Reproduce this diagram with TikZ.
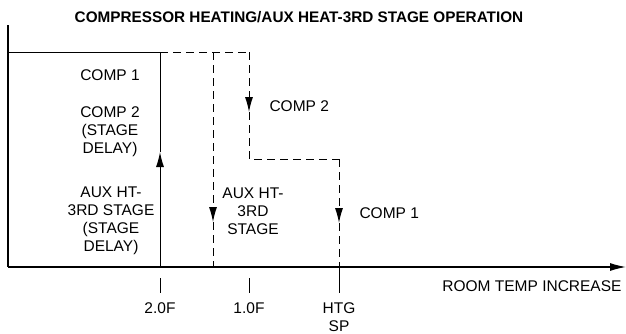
\documentclass[tikz,border=0pt]{standalone}
\usepackage{fontspec}
\setmainfont{Liberation Sans}
\usetikzlibrary{arrows.meta}
\begin{document}
\begin{tikzpicture}[x=0.5pt,y=-0.5pt,line width=0.5pt,
  lbl/.style={align=center,font=\fontsize{7.75}{9}\selectfont,inner sep=0pt},
  dsh/.style={dash pattern=on 4pt off 2.5pt},
  tip/.style={-{Latex[length=7.5pt,width=4pt]}}]
  \useasboundingbox (0,0) rectangle (626,333);
  % axes
  \coordinate (o) at (8,267);
  \coordinate (ytop) at (8,25);
  \coordinate (xend) at (626,267);
  \draw[line width=0.6pt] (ytop) -- (o);
  \draw[line width=0.6pt,-{Latex[length=8pt,width=4pt]}] (o) -- (xend);
  % solid step (2.0F)
  \coordinate (tl) at (8,52);
  \coordinate (s1t) at (160,52);
  \coordinate (s1m) at (160,152);
  \coordinate (s1b) at (160,267);
  \draw (tl) -- (s1t);
  \draw[tip] (s1b) -- (s1m);
  \draw (s1m) -- (s1t);
  % dashed steps
  \coordinate (d1t) at (213,52);
  \coordinate (d1m) at (213,222);
  \coordinate (d1b) at (213,267);
  \coordinate (d2t) at (249,52);
  \coordinate (d2m) at (249,112);
  \coordinate (d2c) at (249,159);
  \coordinate (d3c) at (339,159);
  \coordinate (d3m) at (339,223);
  \coordinate (d3b) at (339,267);
  \draw[dsh] (s1t) -- (d2t);
  \draw[dsh,tip] (d1t) -- (d1m);
  \draw[dsh] (d1m) -- (d1b);
  \draw[dsh,tip] (d2t) -- (d2m);
  \draw[dsh] (d2m) -- (d2c) -- (d3c);
  \draw[dsh,tip] (d3c) -- (d3m);
  \draw[dsh] (d3m) -- (d3b);
  % ticks
  \coordinate (t1a) at (160,278);
  \coordinate (t1b) at (160,293);
  \coordinate (t2a) at (249,278);
  \coordinate (t2b) at (249,293);
  \coordinate (t3b) at (339,293);
  \draw (t1a) -- (t1b);
  \draw (t2a) -- (t2b);
  \draw (d3b) -- (t3b);
  % labels
  \node[font=\bfseries\fontsize{7.65}{9}\selectfont,inner sep=0pt] (title) at (299,17) {COMPRESSOR HEATING/AUX HEAT-3RD STAGE OPERATION};
  \node[lbl] (lc1) at (110,75) {COMP 1};
  \node[lbl] (lc2) at (110,132) {COMP 2\\(STAGE\\DELAY)};
  \node[lbl] (laux) at (111,221) {AUX HT-\\3RD STAGE\\(STAGE\\DELAY)};
  \node[lbl] (maux) at (253,211) {AUX HT-\\3RD\\STAGE};
  \node[lbl,anchor=west] (rc2) at (269,106) {COMP 2};
  \node[lbl,anchor=west] (rc1) at (359,213) {COMP 1};
  \node[lbl] (x2) at (160,308) {2.0F};
  \node[lbl] (x1) at (249,308) {1.0F};
  \node[lbl] (hsp) at (339,317) {HTG\\SP};
  \node[lbl,anchor=east] (xlab) at (622,286) {ROOM TEMP INCREASE};
\end{tikzpicture}
\end{document}
